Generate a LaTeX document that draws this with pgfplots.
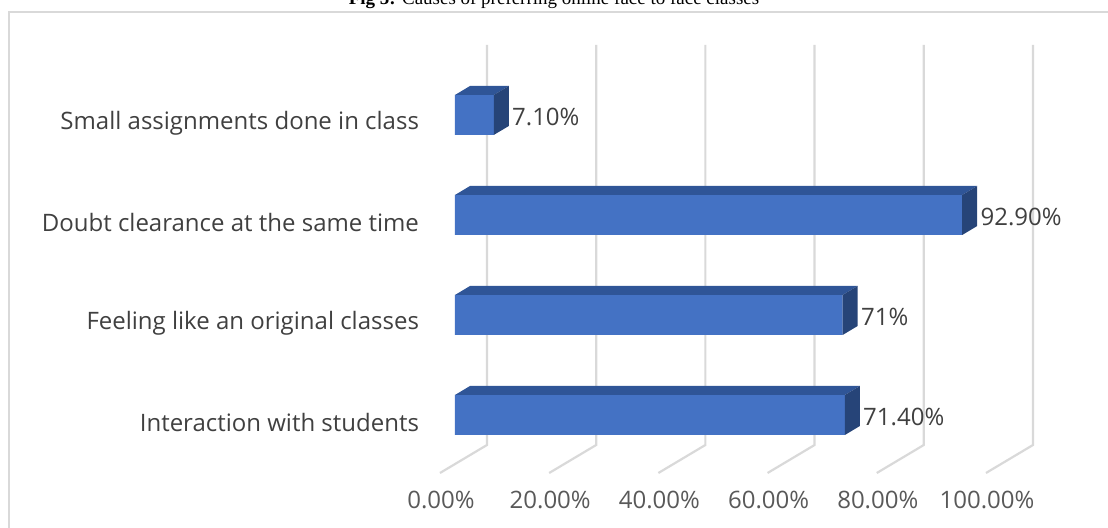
\documentclass[border=0pt]{standalone}
\usepackage{fontspec}
\setmainfont{Open Sans}
\newfontfamily\serif{Liberation Serif}
\usepackage{pgfplots}
\usepackage{pgfplotstable}
\pgfplotsset{compat=1.18}
\definecolor{frontc}{HTML}{4472C4}
\definecolor{topc}{HTML}{2F5597}
\definecolor{sidec}{HTML}{264478}
\definecolor{gridc}{HTML}{D9D9D9}
\definecolor{labc}{HTML}{404040}
\definecolor{tickc}{HTML}{595959}
\definecolor{borderc}{HTML}{D9D9D9}

\pgfplotstableread{
y val lab
0 71.4 71.40\%
1 71.0 71\%
2 92.9 92.90\%
3 7.1 7.10\%
}\data

\begin{document}
\begin{tikzpicture}
\begin{axis}[
  at={(0,0)}, anchor=south west,
  width=554bp, height=264bp, scale only axis,
  xmin=-83.33, xmax=119.60, ymin=-1.13, ymax=4.15,
  axis line style={draw=none}, tick style={draw=none}, major tick length=0pt,
  xtick={0,20,40,60,80,100},
  xticklabels={0.00\%,20.00\%,40.00\%,60.00\%,80.00\%,100.00\%},
  xticklabel style={anchor=center, yshift=14bp, xshift=-7bp,
    font=\fontsize{12bp}{14bp}\selectfont, text=tickc},
  ytick={0,1,2,3},
  yticklabels={Interaction with students, Feeling like an original classes,
    Doubt clearance at the same time, Small assignments done in class},
  yticklabel style={anchor=east, xshift=213bp, yshift=-4bp,
    font=\fontsize{12bp}{14bp}\selectfont, text=labc},
]
% perspective gridlines (back wall + floor)
\pgfplotsforeachungrouped \k in {0,20,40,60,80,100}{%
  \pgfmathsetmacro\gb{\k+5.86}%
  \pgfmathsetmacro\gf{\k-2.75}%
  \edef\tmp{\noexpand\addplot[draw=gridc, line width=1.1bp] coordinates {(\gb,3.70) (\gb,-0.30) (\gf,-0.58)};}%
  \tmp
}
% front faces of bars
\addplot[xbar, bar width=0.4, fill=frontc, draw=none,
  point meta=explicit symbolic, nodes near coords,
  nodes near coords style={anchor=west, xshift=9bp, yshift=-1bp, inner sep=0pt,
    font=\fontsize{12bp}{14bp}\selectfont, text=labc}]
  table[x=val, y=y, meta=lab]{\data};
% top and side faces
\pgfplotsforeachungrouped \i in {0,1,2,3}{%
  \pgfplotstablegetelem{\i}{val}\of\data
  \pgfmathsetmacro\v{\pgfplotsretval}%
  \pgfmathsetmacro\vd{\v+2.75}%
  \pgfmathsetmacro\yl{\i-0.2}%
  \pgfmathsetmacro\yh{\i+0.2}%
  \pgfmathsetmacro\yld{\i-0.2+0.09}%
  \pgfmathsetmacro\yhd{\i+0.2+0.09}%
  \edef\tmp{\noexpand\addplot[fill=topc, draw=none] coordinates {(0,\yh) (\v,\yh) (\vd,\yhd) (2.75,\yhd)};
    \noexpand\addplot[fill=sidec, draw=none] coordinates {(\v,\yl) (\v,\yh) (\vd,\yhd) (\vd,\yld)};}%
  \tmp
}
% outer frame (only top and left edges visible)
\draw[borderc, line width=1.2bp] (rel axis cs:1.2,{1-12/528}) -- (rel axis cs:{9/1108},{1-12/528}) -- (rel axis cs:{9/1108},-0.2);
% title, clipped at the top as in the reference
\node[anchor=base, font=\serif\fontsize{9.5bp}{11bp}\selectfont, text=black, inner sep=0pt]
  at (rel axis cs:0.5,{1-5/528}) {\textbf{Fig 5:} Causes of preferring online face to face classes};
\end{axis}
\pgfresetboundingbox
\useasboundingbox (0,0) rectangle (554bp,264bp);
\end{tikzpicture}
\end{document}
